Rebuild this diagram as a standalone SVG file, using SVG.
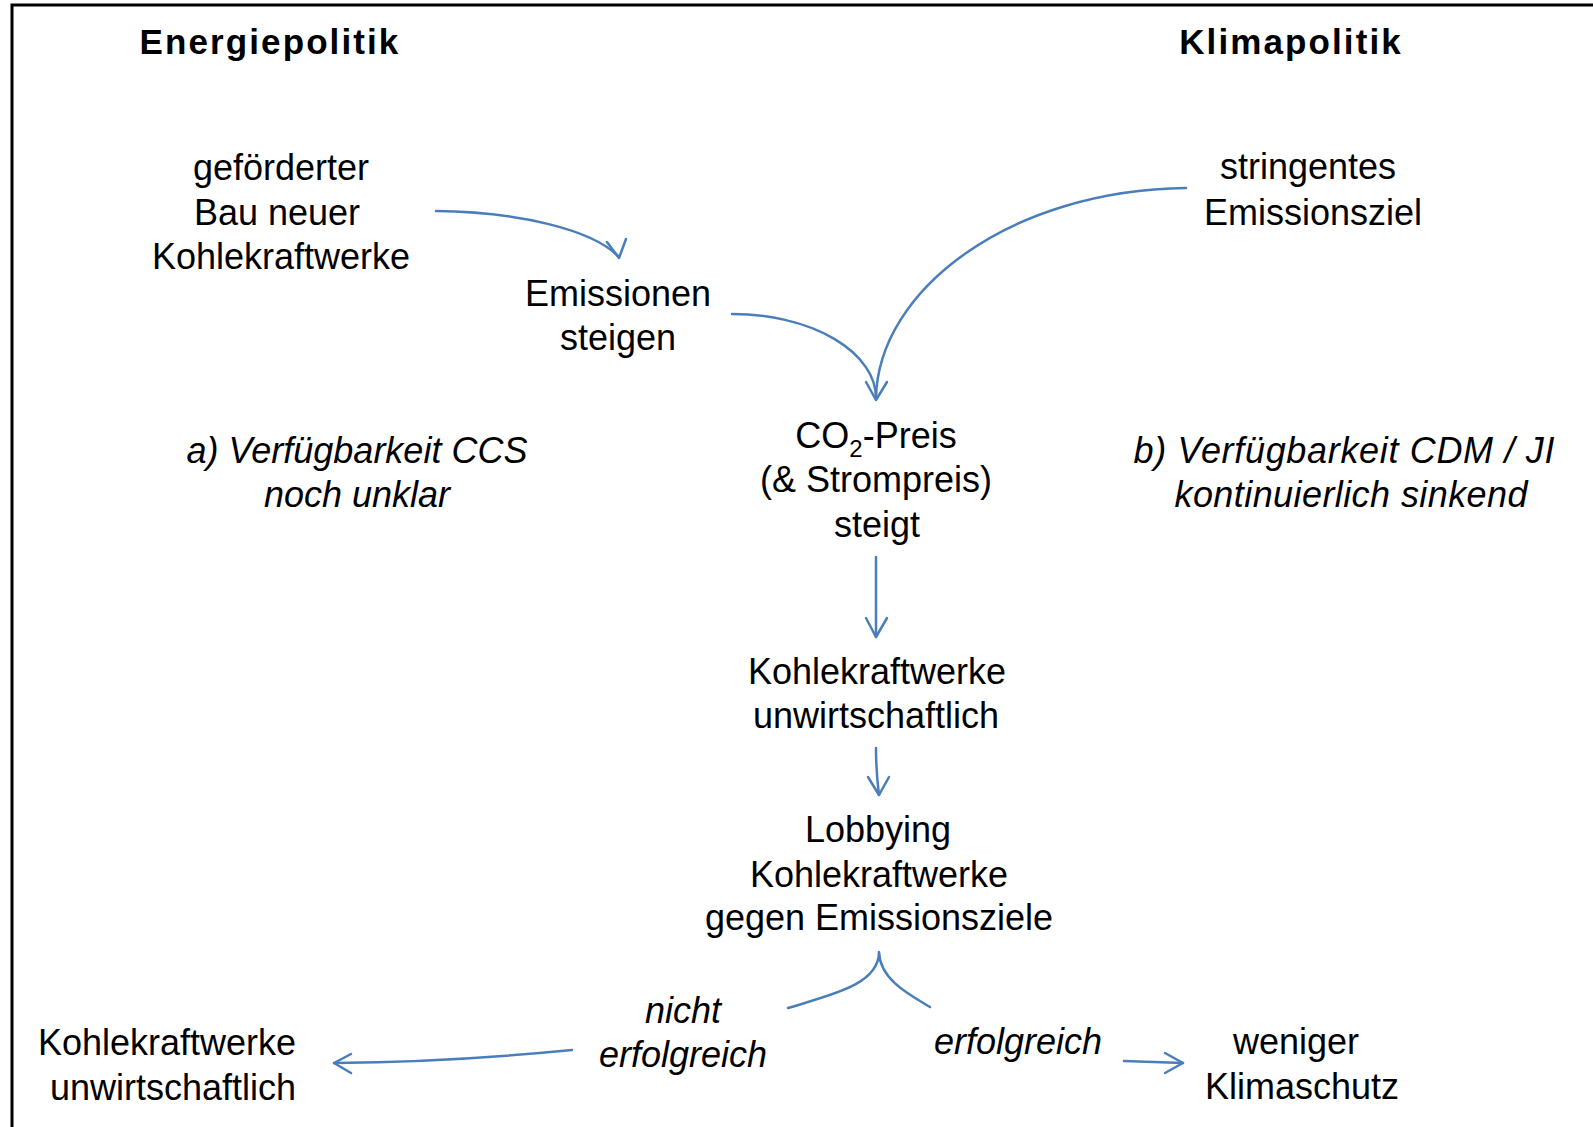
<svg xmlns="http://www.w3.org/2000/svg" width="1593" height="1127" viewBox="0 0 1593 1127">
<style>
text{font-family:"Liberation Sans",Arial,sans-serif;font-size:36px;fill:#000;text-anchor:middle}
.h{font-weight:bold;font-size:35px;letter-spacing:2.1px}
.i{font-style:italic}
.c{fill:none;stroke:#4A7EBB;stroke-width:2.5;stroke-linecap:round;stroke-linejoin:round}
.frame{fill:none;stroke:#000;stroke-width:3}
</style>
<rect width="1593" height="1127" fill="#fff"/>
<path class="frame" d="M12,1127 V5 H1593"/>
<g id="head-energie"><text class="h" x="270" y="54">Energiepolitik</text></g>
<g id="head-klima"><text class="h" x="1291" y="54">Klimapolitik</text></g>
<g id="n-bau"><text x="281" y="180">geförderter</text><text x="277" y="225">Bau neuer</text><text x="281" y="269">Kohlekraftwerke</text></g>
<g id="n-emissionen"><text x="618" y="306">Emissionen</text><text x="618" y="350">steigen</text></g>
<g id="n-ziel"><text x="1308" y="179">stringentes</text><text x="1313" y="225">Emissionsziel</text></g>
<g id="n-preis"><text x="876" y="448">CO<tspan font-size="24" dy="9">2</tspan><tspan dy="-9">-Preis</tspan></text><text x="876" y="492">(&amp; Strompreis)</text><text x="877" y="537">steigt</text></g>
<g id="n-ccs"><text class="i" x="357" y="463">a) Verfügbarkeit CCS</text><text class="i" x="357" y="507">noch unklar</text></g>
<g id="n-cdm"><text class="i" x="1344" y="463" textLength="421" lengthAdjust="spacing">b) Verfügbarkeit CDM / JI</text><text class="i" x="1351" y="507" textLength="353" lengthAdjust="spacing">kontinuierlich sinkend</text></g>
<g id="n-unwirt1"><text x="877" y="684">Kohlekraftwerke</text><text x="876" y="728">unwirtschaftlich</text></g>
<g id="n-lobby"><text x="878" y="842">Lobbying</text><text x="879" y="887">Kohlekraftwerke</text><text x="879" y="930">gegen Emissionsziele</text></g>
<g id="n-unwirt2"><text x="167" y="1055">Kohlekraftwerke</text><text x="173" y="1100">unwirtschaftlich</text></g>
<g id="n-klimaschutz"><text x="1296" y="1054">weniger</text><text x="1302" y="1099">Klimaschutz</text></g>
<g id="l-nicht"><text class="i" x="683" y="1023">nicht</text><text class="i" x="683" y="1067">erfolgreich</text></g>
<g id="l-erfolg"><text class="i" x="1018" y="1054">erfolgreich</text></g>
<g id="connectors">
<path class="c" d="M436,211 C520,212 592,230 618,256"/>
<path class="c" d="M607,242 L619,258 L626,239"/>
<path class="c" d="M732,314 A144,84 0 0 1 876,398"/>
<path class="c" d="M1186,188 C1010,190 878,290 876,398"/>
<path class="c" d="M866,382 L876,400 L887,382"/>
<path class="c" d="M876,557 V637"/>
<path class="c" d="M866,618 L876,637 L887,618"/>
<path class="c" d="M876,748 Q876,772 879,795"/>
<path class="c" d="M868,777 L879,795 L889,777"/>
<path class="c" d="M788,1008 C830,995 879,985 879,952 C880,980 910,995 930,1007"/>
<path class="c" d="M572,1050 Q450,1062 334,1063"/>
<path class="c" d="M351,1054 L334,1063 L351,1073"/>
<path class="c" d="M1124,1061 Q1155,1062 1183,1063"/>
<path class="c" d="M1165,1053 L1183,1063 L1165,1073"/>
</g>
</svg>
